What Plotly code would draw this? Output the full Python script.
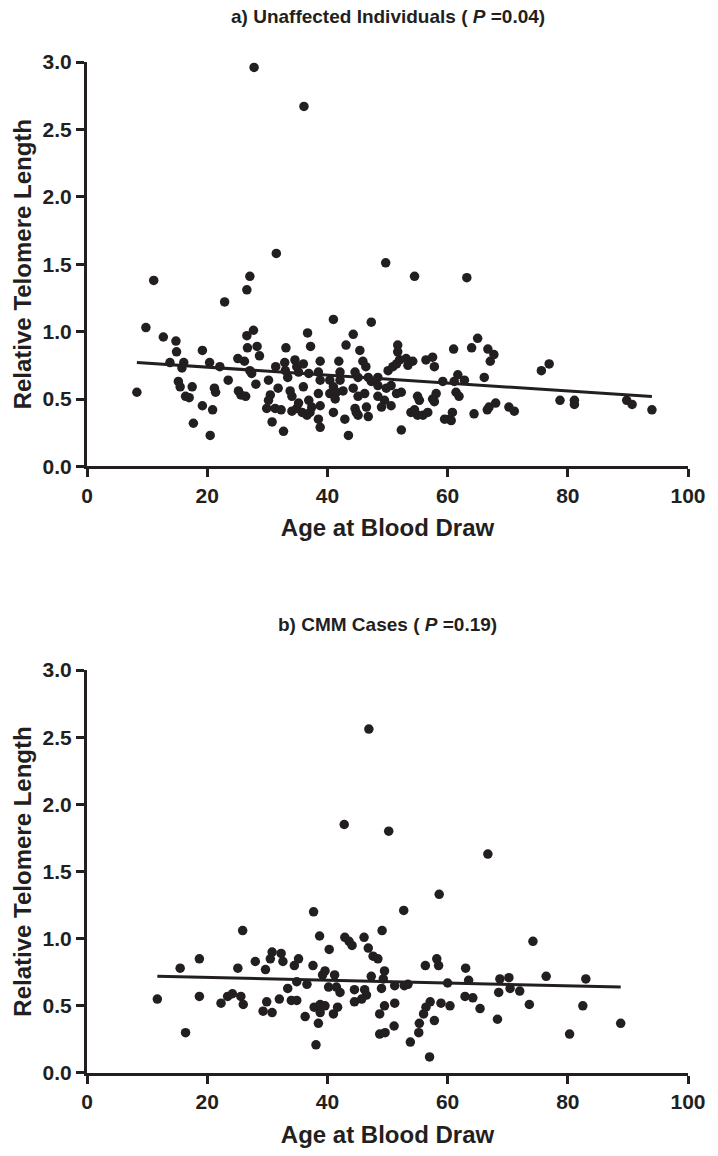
import plotly.graph_objects as go
import numpy as np

# Panel a: Unaffected individuals
age_a = [27.8, 36.1, 31.5, 49.7, 54.5, 63.2, 11.1, 27.1, 26.6, 22.9, 41.0, 47.3, 9.8, 12.7, 14.8, 27.7, 26.6, 36.7, 44.3, 43.1, 51.7, 64.0, 65.0,
         14.9, 13.8, 16.1, 15.8, 19.2, 20.4, 22.1, 8.3, 15.2, 15.5, 17.5, 16.4, 17.0, 19.2, 17.7, 20.9, 20.5, 21.2, 21.4, 23.5, 25.1, 26.2, 25.2, 25.6, 26.4, 26.7, 28.3, 28.7, 27.1, 27.4, 28.1, 30.2, 31.4, 31.8, 32.9, 33.1, 33.4, 30.5, 30.2, 29.9, 31.3, 32.3, 30.8, 32.7, 33.8, 34.1, 34.1, 34.6, 34.9, 34.9,
         36.0, 33.0, 35.2, 36.9, 38.5, 35.8, 36.6, 35.2, 37.2, 45.4, 51.7, 38.8, 41.9, 45.9, 46.4, 38.8, 42.1, 42.1, 40.4, 41.0, 41.5, 44.6, 45.1, 46.8, 47.3, 48.4, 48.4, 50.1, 50.9, 51.5, 52.0, 53.1, 53.4, 54.2, 49.8, 50.6, 56.4, 57.5, 57.8, 61.0, 66.7, 67.1, 67.7, 61.7, 62.8, 59.2, 61.1, 66.1, 36.0, 38.5, 38.8, 36.9, 40.4, 41.3, 42.6, 44.3, 45.1, 46.2, 48.4, 49.0, 49.5, 50.6, 51.5, 52.3, 55.0, 55.3, 54.5, 58.1, 57.5, 57.8, 61.4, 61.9, 53.9, 55.0, 55.9, 56.7, 59.5, 60.3, 60.8, 60.6, 64.4, 66.6, 66.9, 68.0, 44.6, 45.1, 46.5, 46.8, 44.8, 42.9, 41.0, 38.5, 38.8, 43.5, 52.3, 37.1, 37.4,
         70.2, 71.1, 75.6, 76.9, 78.7, 81.1, 81.1, 89.8, 90.7, 94.0]
rtl_a = [2.96, 2.67, 1.58, 1.51, 1.41, 1.40, 1.38, 1.41, 1.31, 1.22, 1.09, 1.07, 1.03, 0.96, 0.93, 1.01, 0.97, 0.99, 0.98, 0.90, 0.90, 0.88, 0.95,
         0.85, 0.77, 0.77, 0.73, 0.86, 0.77, 0.74, 0.55, 0.63, 0.59, 0.59, 0.52, 0.51, 0.45, 0.32, 0.42, 0.23, 0.58, 0.55, 0.64, 0.80, 0.78, 0.56, 0.53, 0.52, 0.88, 0.89, 0.82, 0.71, 0.69, 0.61, 0.64, 0.74, 0.58, 0.77, 0.88, 0.66, 0.53, 0.49, 0.43, 0.43, 0.42, 0.33, 0.26, 0.56, 0.52, 0.41, 0.79, 0.74, 0.43,
         0.76, 0.71, 0.70, 0.69, 0.70, 0.40, 0.38, 0.47, 0.89, 0.86, 0.85, 0.78, 0.78, 0.78, 0.74, 0.64, 0.70, 0.64, 0.64, 0.59, 0.55, 0.70, 0.66, 0.66, 0.63, 0.66, 0.60, 0.71, 0.74, 0.76, 0.79, 0.80, 0.75, 0.78, 0.58, 0.60, 0.79, 0.81, 0.74, 0.87, 0.87, 0.78, 0.83, 0.68, 0.64, 0.63, 0.63, 0.66, 0.59, 0.54, 0.45, 0.49, 0.54, 0.50, 0.56, 0.58, 0.52, 0.54, 0.52, 0.44, 0.49, 0.45, 0.54, 0.55, 0.52, 0.49, 0.42, 0.54, 0.50, 0.48, 0.55, 0.52, 0.40, 0.38, 0.38, 0.40, 0.35, 0.35, 0.40, 0.34, 0.39, 0.42, 0.44, 0.47, 0.43, 0.38, 0.44, 0.37, 0.40, 0.35, 0.40, 0.35, 0.29, 0.23, 0.27, 0.40, 0.44,
         0.44, 0.41, 0.71, 0.76, 0.49, 0.49, 0.46, 0.49, 0.46, 0.42]

# Panel b: CMM cases
age_b = [25.9, 11.7, 15.5, 18.7, 16.4, 18.7, 22.3, 23.4, 24.2, 25.6, 26.0, 25.1, 28.0, 29.7, 30.8, 30.5, 32.3, 32.6, 34.5, 35.2, 33.4, 32.0, 34.0, 34.9, 29.9, 29.3, 30.8, 34.9,
         37.7, 38.7, 40.3, 37.6, 39.6, 39.2, 41.2, 36.6, 40.2, 41.5, 42.1, 37.8, 38.8, 39.6, 38.8, 36.3, 38.5, 38.1, 41.0, 41.7, 42.9, 43.6, 44.1, 46.1, 46.8, 47.6, 48.4, 49.1, 47.3, 49.5, 49.3, 49.0, 44.5, 46.2, 46.5, 44.5, 45.7, 48.7, 49.5, 51.2, 51.2, 52.8, 53.4, 48.7, 49.6, 51.1, 52.7, 58.6, 56.3, 58.2, 58.5, 60.0, 57.1, 56.4, 56.0, 55.3, 55.2, 53.8, 57.0, 57.8, 58.9, 60.4, 63.0, 63.5, 62.9, 64.2, 65.4,
         74.2, 68.7, 70.2, 68.5, 70.4, 72.0, 73.6, 68.3, 76.4, 83.0, 82.5, 80.3, 88.8,
         42.8, 46.9, 50.2, 66.7]
rtl_b = [1.06, 0.55, 0.78, 0.85, 0.30, 0.57, 0.52, 0.57, 0.59, 0.57, 0.51, 0.78, 0.83, 0.77, 0.90, 0.85, 0.89, 0.83, 0.80, 0.85, 0.63, 0.55, 0.54, 0.54, 0.53, 0.46, 0.45, 0.68,
         1.20, 1.02, 0.92, 0.80, 0.76, 0.73, 0.73, 0.66, 0.64, 0.64, 0.60, 0.49, 0.51, 0.50, 0.45, 0.42, 0.37, 0.21, 0.44, 0.49, 1.01, 0.98, 0.95, 1.01, 0.93, 0.87, 0.85, 1.06, 0.72, 0.76, 0.70, 0.63, 0.62, 0.62, 0.58, 0.53, 0.55, 0.44, 0.50, 0.52, 0.65, 0.65, 0.66, 0.29, 0.30, 0.35, 1.21, 1.33, 0.80, 0.85, 0.80, 0.67, 0.53, 0.49, 0.44, 0.37, 0.30, 0.23, 0.12, 0.39, 0.52, 0.50, 0.78, 0.69, 0.57, 0.56, 0.48,
         0.98, 0.70, 0.71, 0.60, 0.63, 0.61, 0.51, 0.40, 0.72, 0.70, 0.50, 0.29, 0.37,
         1.85, 2.56, 1.80, 1.63]

# Regression fits (intercept, slope)
fit_a = [0.795, -0.00294]
fit_b = [0.733, -0.00105]

titles = ["a) Unaffected Individuals ( <i>P</i> =0.04)", "b) CMM Cases ( <i>P</i> =0.19)"]
x_title = "Age at Blood Draw"
y_title = "Relative Telomere Length"
x_ticks = [0, 20, 40, 60, 80, 100]
y_ticks = [0.0, 0.5, 1.0, 1.5, 2.0, 2.5, 3.0]

INK = "#231f20"
FONT = "Liberation Sans, Arial, sans-serif"

fig = go.Figure()

for i, (ages, vals, fit) in enumerate([(age_a, rtl_a, fit_a), (age_b, rtl_b, fit_b)]):
    xa = "x" if i == 0 else "x2"
    ya = "y" if i == 0 else "y2"
    fig.add_trace(go.Scatter(x=ages, y=vals, mode="markers", xaxis=xa, yaxis=ya,
                             marker=dict(size=9.5, color=INK, line=dict(width=0)),
                             showlegend=False, cliponaxis=False))
    fx = np.array([min(ages), max(ages)])
    fy = fit[0] + fit[1] * fx
    fig.add_trace(go.Scatter(x=fx, y=fy, mode="lines", xaxis=xa, yaxis=ya,
                             line=dict(color=INK, width=3), showlegend=False))

axis_common = dict(showline=True, linecolor=INK, linewidth=3, ticks="outside",
                   ticklen=8, tickwidth=3, tickcolor=INK, showgrid=False, zeroline=False,
                   tickfont=dict(family=FONT, size=21, color=INK))

xaxis = dict(axis_common, range=[0, 100], tickvals=x_ticks,
             ticktext=["<b>%d</b>" % t for t in x_ticks],
             title=dict(text="<b>%s</b>" % x_title, font=dict(family=FONT, size=24, color=INK), standoff=14))
yaxis = dict(axis_common, range=[0, 3.0], tickvals=y_ticks,
             ticktext=["<b>%.1f</b>" % t for t in y_ticks],
             title=dict(text="<b>%s</b>" % y_title, font=dict(family=FONT, size=24, color=INK), standoff=5))

fig.update_layout(
    width=718, height=1156,
    margin=dict(l=87, r=26, t=62, b=83),
    plot_bgcolor="white", paper_bgcolor="white",
    xaxis=dict(xaxis, domain=[0, 1], anchor="y"),
    yaxis=dict(yaxis, domain=[0.600, 1], anchor="x"),
    xaxis2=dict(xaxis, domain=[0, 1], anchor="y2"),
    yaxis2=dict(yaxis, domain=[0, 0.3986], anchor="x2"),
    annotations=[
        dict(text="<b>%s</b>" % titles[0], x=0.5, xref="x domain", y=1, yref="y domain",
             yanchor="middle", yshift=46, showarrow=False, font=dict(family=FONT, size=19, color=INK)),
        dict(text="<b>%s</b>" % titles[1], x=0.5, xref="x2 domain", y=1, yref="y2 domain",
             yanchor="middle", yshift=46, showarrow=False, font=dict(family=FONT, size=19, color=INK)),
    ],
)

fig.write_html("out.html", config={"displayModeBar": False},
               post_script="document.body.style.margin='0px';")
